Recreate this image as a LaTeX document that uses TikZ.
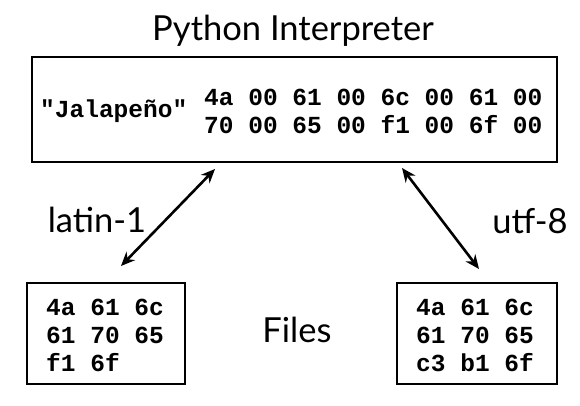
\documentclass[tikz,border=0pt]{standalone}
\usepackage{fontspec}
\setmainfont{Lato}
\newfontfamily\hexfont[Ligatures=NoCommon]{Liberation Mono}
\usetikzlibrary{arrows.meta}
\begin{document}
\begin{tikzpicture}[x=1pt,y=-1pt,
  box/.style={draw=black,line width=2.2pt,inner sep=0pt},
  hex/.style={font=\hexfont\bfseries\fontsize{24.5}{28}\selectfont,align=left,inner sep=0pt},
  label/.style={font=\fontsize{34.5}{38}\selectfont,inner sep=0pt},
  link/.style={{Stealth[length=14pt,width=12pt]}-{Stealth[length=14pt,width=12pt]},line width=2.6pt}]
\useasboundingbox (0,0) rectangle (580,405);
\fill[white] (0,0) rectangle (580,405);
\node[label] (title) at (293,31) {Python Interpreter};
\node[box,minimum width=525pt,minimum height=105pt] (py) at (294.5,109.5) {};
\node[hex,anchor=west] (str) at (40,111) {"Jalapeño"};
\node[hex,anchor=west] (bytes) at (204,111) {4a 00 61 00 6c 00 61 00\\70 00 65 00 f1 00 6f 00};
\node[box,minimum width=158pt,minimum height=101pt] (lat) at (106,333.5) {};
\node[hex,anchor=west] (latb) at (46,335) {4a 61 6c\\61 70 65\\f1 6f};
\node[box,minimum width=160pt,minimum height=101pt] (utf) at (477,333.5) {};
\node[hex,anchor=west] (utfb) at (416,335) {4a 61 6c\\61 70 65\\c3 b1 6f};
\node[label] (files) at (297,330) {Files};
\node[label] (l1) at (97,220) {latin-1};
\node[label] (l2) at (530,221) {utf-8};
\coordinate (la) at (215,169);
\coordinate (lb) at (121,266);
\coordinate (ra) at (402,168);
\coordinate (rb) at (479,269);
\draw[link] (la) -- (lb);
\draw[link] (ra) -- (rb);
\end{tikzpicture}
\end{document}
